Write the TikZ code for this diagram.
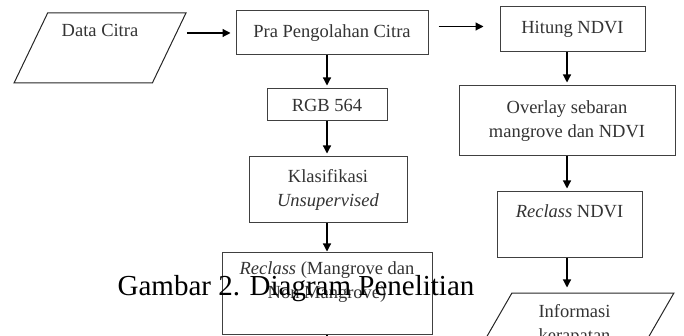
\documentclass[tikz,border=0pt]{standalone}
\usepackage{fontspec}
\setmainfont{Liberation Serif}
\usepackage{tikz}
\usetikzlibrary{calc}
\usetikzlibrary{arrows.meta,shapes.geometric}

\begin{document}
\begin{tikzpicture}[x=1pt,y=-1pt,
  box/.style={draw=black!75,line width=1pt,rectangle,text=black!80,font=\fontsize{18.5}{24}\selectfont},
  io/.style={draw=black!85,line width=1pt,trapezium,trapezium left angle=64,trapezium right angle=116,trapezium stretches=true,text=black!80,font=\fontsize{18.5}{24}\selectfont},
  arr/.style={-{Triangle[length=8pt,width=8pt]},line width=1.2pt,shorten >=3pt}]
\useasboundingbox (0,0) rectangle (684,336);
\clip (0,0) rectangle (684,336);

% Input
\node[io,minimum width=172,minimum height=70] (data) at (100,48) {
\begin{tabular}{c}
Data Citra \\[8pt]
\\
\end{tabular}
};

% Left column
\node[box,minimum width=192,minimum height=44] (pra) at (332,33) {Pra Pengolahan Citra};
\node[box,minimum width=120,minimum height=32] (rgb) at (327,105) {RGB 564};
\node[box,minimum width=158,minimum height=66] (klas) at (328,190) {
\begin{tabular}{c}
Klasifikasi \\
\textit{Unsupervised}
\end{tabular}
};
\node[box,minimum width=210,minimum height=81] (reclassmg) at (327,293.5) {
\begin{tabular}{c}
\textit{Reclass} (Mangrove dan \\
Non Mangrove) \\
\\
\end{tabular}
};
\coordinate (next) at (327,360);

% Right column
\node[box,minimum width=145,minimum height=45] (hitung) at (572.5,29.5) {Hitung NDVI};
\node[box,minimum width=216,minimum height=70] (overlay) at (567,121) {
\begin{tabular}{c}
Overlay sebaran \\
mangrove dan NDVI
\end{tabular}
};
\node[box,minimum width=145,minimum height=65] (reclassndvi) at (569.5,224.5) {
\begin{tabular}{c}
\textit{Reclass} NDVI \\
\\
\end{tabular}
};
\node[io,minimum width=199,minimum height=64] (info) at (574.5,325) {
\begin{tabular}{c}
Informasi \\
kerapatan
\end{tabular}
};

% Arrows
\draw[arr,shorten >=5pt] (pra.west -| data.top right corner) -- (pra.west);
\draw[arr,shorten <=10pt,shorten >=16pt] ([yshift=3pt]pra.east |- hitung.west) -- ([yshift=3pt]hitung.west);
\draw[arr] (rgb.north |- pra.south) -- (rgb.north);
\draw[arr] (rgb.south) -- (rgb.south |- klas.north);
\draw[arr,shorten >=1pt] (rgb.south |- klas.south) -- (rgb.south |- reclassmg.north);
\draw[arr] (reclassmg.south) -- (next);
\draw[arr] (overlay.north |- hitung.south) -- (overlay.north);
\draw[arr] (overlay.south) -- (overlay.south |- reclassndvi.north);
\draw[arr,shorten >=5pt] (overlay.south |- reclassndvi.south) -- (overlay.south |- info.north);

% Caption
\node[font=\fontsize{29}{32}\selectfont,anchor=base] (caption) at (296,295) {Gambar 2. Diagram Penelitian};
\end{tikzpicture}
\end{document}
